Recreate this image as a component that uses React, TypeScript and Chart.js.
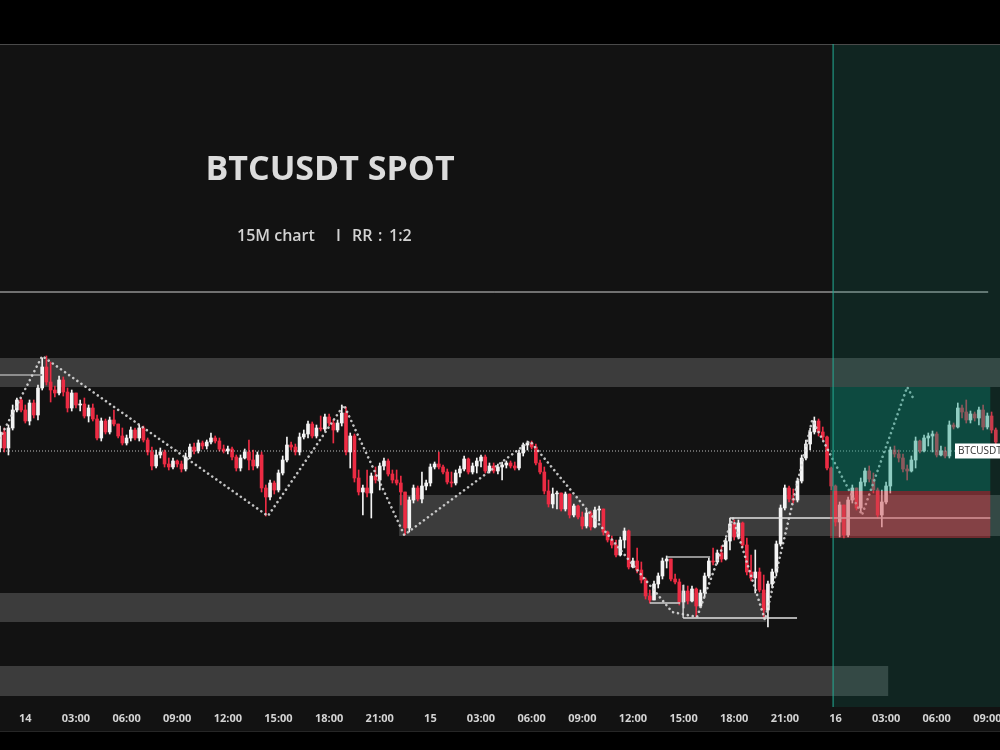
import React, { useEffect, useRef } from "react";
import { Chart, registerables } from "chart.js";

Chart.register(...registerables);

// ---- candle data (15M, index 0 = 14th 00:00) ----
const firstIndex = -6;
const firstOpen = 26104;
const closes = [
  26136, 26104, 26144, 26180, 26200, 26180,
  26158, 26194, 26170, 26224, 26266, 26236, 26220, 26214, 26240, 26216,
  26184, 26214, 26190, 26192, 26168, 26184, 26162, 26124, 26158, 26136,
  26160, 26152, 26128, 26114, 26124, 26140, 26124, 26144, 26120, 26096,
  26068, 26090, 26096, 26072, 26066, 26078, 26072, 26062, 26086, 26106,
  26098, 26114, 26108, 26116, 26124, 26118, 26102, 26098, 26102, 26086,
  26064, 26084, 26096, 26080, 26068, 26090, 26024, 26006, 26034, 26020,
  26054, 26080, 26110, 26106, 26096, 26126, 26132, 26152, 26128, 26144,
  26142, 26166, 26154, 26140, 26154, 26174, 26096, 26128, 26044, 26016,
  26024, 26014, 26048, 26040, 26068, 26078, 26052, 26040, 26034, 26016,
  25944, 26000, 26024, 26002, 26028, 26034, 26066, 26072, 26066, 26056,
  26036, 26034, 26054, 26062, 26082, 26056, 26068, 26078, 26086, 26058,
  26068, 26058, 26066, 26070, 26074, 26068, 26064, 26094, 26110, 26114,
  26106, 26074, 26056, 26018, 25992, 26012, 26014, 25982, 26012, 25970,
  25988, 25966, 25948, 25974, 25946, 25980, 25982, 25936, 25920, 25910,
  25890, 25920, 25938, 25866, 25878, 25860, 25840, 25808, 25800, 25832,
  25848, 25878, 25882, 25842, 25836, 25796, 25818, 25798, 25822, 25788,
  25814, 25848, 25878, 25876, 25894, 25882, 25918, 25952, 25926, 25954,
  25910, 25856, 25844, 25856, 25820, 25780, 25832, 25856, 25912, 25984,
  26024, 26002, 26000, 26038, 26084, 26112, 26136, 26158, 26136, 26126,
  26064, 26028, 25956, 25990, 25930, 26000, 26024, 25984, 26036, 26058,
  26042, 26020, 25970, 25996, 26028, 26100, 26092, 26084, 26062, 26058,
  26080, 26118, 26098, 26124, 26128, 26132, 26090, 26098, 26088, 26150,
  26146, 26184, 26176, 26160, 26172, 26164, 26180, 26146, 26168, 26140, 26116,
];
const highs = [
  26148, 26144, 26150, 26190, 26204, 26204,
  26190, 26200, 26200, 26230, 26284, 26288, 26276, 26228, 26248, 26246,
  26224, 26220, 26210, 26200, 26204, 26190, 26192, 26170, 26164, 26162,
  26166, 26180, 26152, 26144, 26130, 26146, 26144, 26150, 26148, 26124,
  26106, 26100, 26104, 26100, 26084, 26084, 26080, 26078, 26094, 26112,
  26114, 26120, 26118, 26120, 26134, 26128, 26124, 26110, 26108, 26106,
  26090, 26090, 26102, 26120, 26100, 26096, 26096, 26030, 26040, 26038,
  26060, 26088, 26126, 26116, 26112, 26134, 26140, 26158, 26156, 26150,
  26168, 26172, 26172, 26160, 26160, 26190, 26186, 26134, 26132, 26060,
  26030, 26060, 26054, 26066, 26074, 26084, 26082, 26060, 26060, 26048,
  26016, 26006, 26030, 26028, 26056, 26040, 26072, 26076, 26096, 26070,
  26062, 26056, 26060, 26068, 26088, 26084, 26074, 26084, 26090, 26090,
  26074, 26074, 26072, 26076, 26078, 26078, 26076, 26100, 26114, 26118,
  26118, 26112, 26080, 26066, 26040, 26024, 26018, 26000, 26016, 26012,
  25992, 25990, 25976, 25980, 25978, 25986, 25988, 25980, 25938, 25928,
  25920, 25926, 25944, 25940, 25884, 25904, 25876, 25844, 25820, 25838,
  25854, 25884, 25888, 25880, 25852, 25842, 25830, 25828, 25828, 25824,
  25820, 25854, 25884, 25904, 25900, 25908, 25924, 25964, 25960, 25960,
  25956, 25924, 25890, 25900, 25864, 25850, 25838, 25862, 25918, 25990,
  26030, 26028, 26022, 26044, 26090, 26120, 26144, 26166, 26162, 26146,
  26128, 26066, 26030, 25996, 25990, 26006, 26030, 26024, 26044, 26064,
  26068, 26054, 26024, 26020, 26036, 26106, 26108, 26100, 26092, 26070,
  26088, 26126, 26120, 26130, 26134, 26138, 26136, 26108, 26106, 26158,
  26154, 26194, 26190, 26200, 26178, 26176, 26186, 26190, 26174, 26176, 26144,
];
const lows = [
  26096, 26096, 26090, 26140, 26176, 26176,
  26154, 26150, 26164, 26160, 26220, 26230, 26196, 26206, 26210, 26208,
  26176, 26178, 26184, 26178, 26164, 26156, 26158, 26120, 26118, 26132,
  26132, 26148, 26124, 26110, 26110, 26118, 26120, 26118, 26116, 26090,
  26060, 26064, 26084, 26066, 26060, 26062, 26066, 26056, 26058, 26082,
  26092, 26094, 26102, 26102, 26112, 26114, 26098, 26094, 26092, 26080,
  26058, 26058, 26082, 26060, 26060, 26064, 26016, 25968, 26000, 26012,
  26016, 26050, 26076, 26100, 26090, 26090, 26122, 26124, 26124, 26124,
  26138, 26138, 26148, 26114, 26136, 26148, 26090, 26064, 26036, 26010,
  25970, 26006, 25964, 26034, 26020, 26060, 26048, 26034, 26030, 25990,
  25930, 25936, 25994, 25998, 25994, 26020, 26028, 26062, 26062, 26052,
  26032, 26026, 26030, 26046, 26058, 26052, 26052, 26054, 26066, 26054,
  26054, 26054, 26052, 26040, 26064, 26064, 26060, 26060, 26088, 26100,
  26102, 26070, 26052, 26012, 25986, 25984, 25982, 25978, 25978, 25964,
  25966, 25962, 25942, 25944, 25940, 25944, 25958, 25930, 25916, 25904,
  25886, 25888, 25904, 25862, 25864, 25854, 25834, 25802, 25794, 25800,
  25824, 25842, 25864, 25838, 25832, 25790, 25784, 25792, 25796, 25766,
  25786, 25806, 25844, 25870, 25872, 25876, 25880, 25900, 25920, 25922,
  25906, 25850, 25838, 25814, 25816, 25764, 25746, 25824, 25848, 25908,
  25980, 25996, 25994, 25996, 26034, 26080, 26100, 26132, 26128, 26120,
  26060, 26020, 25948, 25926, 25924, 25926, 25994, 25980, 25976, 26028,
  26036, 26014, 25964, 25946, 25992, 26014, 26086, 26076, 26056, 26040,
  26056, 26064, 26094, 26096, 26108, 26096, 26086, 26088, 26084, 26084,
  26142, 26144, 26164, 26154, 26154, 26158, 26150, 26140, 26142, 26134, 26110,
];

// ---- x axis ----
const xMin = -6;
const xMax = 231;
const xTickIdx = [0, 12, 24, 36, 48, 60, 72, 84, 96, 108, 120, 132, 144, 156, 168, 180, 192, 204, 216, 228];
const xTickLabels = ["14", "03:00", "06:00", "09:00", "12:00", "15:00", "18:00", "21:00", "15", "03:00", "06:00", "09:00", "12:00", "15:00", "18:00", "21:00", "16", "03:00", "06:00", "09:00"];
const yMin = 25586;
const yMax = 26912;

// ---- supply / demand zones ----
const zoneFrom = [-6, 88.6, -6, -6];
const zoneTo = [231, 231, 175.6, 204.5];
const zoneHigh = [26284, 26010, 25814, 25668];
const zoneLow = [26226, 25928, 25756, 25608];

// ---- horizontal levels ----
const levelPrice = [26416, 26250, 25964, 25886, 25794, 25764];
const levelFrom = [-6, -6, 167, 152, 148, 155.9];
const levelTo = [228.2, 4, 228.7, 162.3, 155.2, 182.9];
const markerX = 155.9;
const markerLow = 25764;
const markerHigh = 25830;

// ---- zigzag swings ----
const zigX = [-6, 4, 57.5, 75.5, 89.8, 119.6, 153.3, 159.2, 167.7, 175.3, 186.5, 198.3, 209, 210.4];
const zigP = [26124, 26288, 25968, 26190, 25930, 26118, 25776, 25766, 25964, 25760, 26160, 25970, 26226, 26204];

// ---- position tool (long) ----
const projectionStart = 191.5;
const posFrom = 190.7;
const posTo = 228.7;
const entryPrice = 26018;
const targetPrice = 26226;
const stopPrice = 25924;
const lastPrice = 26098;

const UP = "#f4f4f4";
const DOWN = "#ec2b43";
const levelColors = ["#cfcfcf", "#8e8e8e", "#e2e2e2", "#bdbdbd", "#d0d0d0", "#e2e2e2"];
const levelWidths = [1, 2, 1.5, 1.5, 1.5, 1.5];

export default function App() {
  const ref = useRef<HTMLCanvasElement>(null);

  useEffect(() => {
    const canvas = ref.current;
    if (!canvas) return;
    const idx = closes.map((_, k) => firstIndex + k);
    const opens = closes.map((_, k) => (k === 0 ? firstOpen : closes[k - 1]));
    const colors = closes.map((c, k) => (c >= opens[k] ? UP : DOWN));
    const bodies = idx.map((x, k) => ({ x, y: [opens[k], closes[k]] }));
    const wicks = idx.map((x, k) => ({
      x,
      y: [Math.min(lows[k], opens[k], closes[k]), Math.max(highs[k], opens[k], closes[k])],
    }));

    const levelSets: any[] = levelPrice.map((p, k) => ({
      type: "line",
      data: [
        { x: levelFrom[k], y: p },
        { x: levelTo[k], y: p },
      ],
      borderColor: levelColors[k],
      borderWidth: levelWidths[k],
      pointRadius: 0,
      fill: false,
      order: 3,
    }));
    levelSets.push({
      type: "line",
      data: [
        { x: markerX, y: markerLow },
        { x: markerX, y: markerHigh },
      ],
      borderColor: "#d0d0d0",
      borderWidth: 1.5,
      pointRadius: 0,
      fill: false,
      order: 3,
    });

    const plugin = {
      id: "tvDecor",
      beforeDraw(chart: any) {
        const { ctx, chartArea } = chart;
        ctx.save();
        ctx.fillStyle = "#000";
        ctx.fillRect(0, 0, chart.width, chart.height);
        ctx.fillStyle = "#121212";
        ctx.fillRect(0, chartArea.top, chart.width, chartArea.bottom - chartArea.top + 24);
        ctx.fillStyle = "#4a4a4a";
        ctx.fillRect(0, chartArea.top, chart.width, 1);
        ctx.fillStyle = "#262626";
        ctx.fillRect(0, chartArea.bottom + 24, chart.width, 1);
        ctx.restore();
      },
      beforeDatasetsDraw(chart: any) {
        const { ctx, scales } = chart;
        const xs = scales.x;
        const ys = scales.y;
        ctx.save();
        ctx.fillStyle = "rgba(255,255,255,0.18)";
        zoneFrom.forEach((f, k) => {
          const x0 = xs.getPixelForValue(f);
          const x1 = xs.getPixelForValue(zoneTo[k]);
          const y0 = ys.getPixelForValue(zoneHigh[k]);
          const y1 = ys.getPixelForValue(zoneLow[k]);
          ctx.fillRect(x0, y0, x1 - x0, y1 - y0);
        });
        ctx.restore();
      },
      afterDatasetsDraw(chart: any) {
        const { ctx, scales, chartArea } = chart;
        const xs = scales.x;
        const ys = scales.y;
        ctx.save();
        const px = xs.getPixelForValue(projectionStart);
        ctx.fillStyle = "rgba(8,153,129,0.14)";
        ctx.fillRect(px, chartArea.top + 1, chartArea.right - px, chartArea.bottom - chartArea.top - 1);
        const b0 = xs.getPixelForValue(posFrom);
        const b1 = xs.getPixelForValue(posTo);
        const yt = ys.getPixelForValue(targetPrice);
        const ye = ys.getPixelForValue(entryPrice);
        const yst = ys.getPixelForValue(stopPrice);
        ctx.fillStyle = "rgba(8,153,129,0.33)";
        ctx.fillRect(b0, yt, b1 - b0, ye - yt);
        ctx.fillStyle = "rgba(242,54,69,0.42)";
        ctx.fillRect(b0, ye, b1 - b0, yst - ye);
        ctx.fillStyle = "rgba(34,165,142,0.9)";
        ctx.fillRect(Math.round(px) - 0.5, chartArea.top, 1.2, chartArea.bottom - chartArea.top);
        ctx.restore();
      },
      afterDraw(chart: any) {
        const { ctx, scales, chartArea } = chart;
        ctx.save();
        ctx.fillStyle = "#dcdcdc";
        ctx.font = '700 34px "Open Sans"';
        ctx.textAlign = "center";
        ctx.textBaseline = "alphabetic";
        ctx.fillText("BTCUSDT SPOT", 330, 180);
        ctx.font = '600 16px "Open Sans"';
        ctx.fillStyle = "#d2d2d2";
        ctx.textAlign = "left";
        ctx.fillText("15M chart", 237, 241);
        ctx.fillText("I", 336, 241);
        ctx.fillText("RR", 352, 241);
        ctx.fillText(":", 378, 241);
        ctx.fillText("1:2", 389, 241);
        // last price label
        const yl = scales.y.getPixelForValue(lastPrice);
        const lx = chartArea.right - 45;
        ctx.fillStyle = "#ffffff";
        ctx.fillRect(lx, yl - 7.5, 45, 15);
        ctx.fillStyle = "#333333";
        ctx.font = '10px "Open Sans"';
        ctx.textBaseline = "middle";
        ctx.fillText("BTCUSDT", lx + 3, yl + 0.5);
        ctx.restore();
      },
    };

    const chart = new Chart(canvas, {
      type: "bar",
      data: {
        datasets: [
          {
            type: "line",
            data: [
              { x: xMin, y: lastPrice },
              { x: xMax, y: lastPrice },
            ],
            borderColor: "rgba(235,235,235,0.8)",
            borderWidth: 1,
            borderDash: [1, 2],
            pointRadius: 0,
            fill: false,
            order: 1,
          } as any,
          {
            type: "line",
            data: zigX.map((x, k) => ({ x, y: zigP[k] })),
            borderColor: "rgba(215,215,215,0.9)",
            borderWidth: 2.6,
            borderDash: [0.01, 5],
            borderCapStyle: "round",
            pointRadius: 0,
            tension: 0,
            fill: false,
            order: 2,
          } as any,
          ...levelSets,
          {
            type: "bar",
            data: wicks as any,
            backgroundColor: colors,
            barThickness: 1,
            grouped: false,
            borderWidth: 0,
            order: 5,
          } as any,
          {
            type: "bar",
            data: bodies as any,
            backgroundColor: colors,
            barThickness: 3,
            grouped: false,
            borderWidth: 0,
            minBarLength: 1,
            order: 4,
          } as any,
        ],
      },
      options: {
        animation: false,
        responsive: false,
        maintainAspectRatio: false,
        layout: { padding: { top: 44, bottom: 19, left: 0, right: 0 } },
        plugins: { legend: { display: false }, tooltip: { enabled: false } },
        scales: {
          x: {
            type: "linear",
            min: xMin,
            max: xMax,
            offset: false,
            grid: { display: false, drawTicks: false },
            border: { display: false },
            afterBuildTicks: (s: any) => {
              s.ticks = xTickIdx.map((v) => ({ value: v }));
            },
            afterFit: (s: any) => {
              s.height = 24;
              s.paddingLeft = 0;
              s.paddingRight = 0;
            },
            ticks: {
              autoSkip: false,
              maxRotation: 0,
              padding: 5,
              color: "#d4d4d4",
              font: { family: '"Open Sans"', size: 11, weight: "bold" },
              callback: (_v: any, i: number) => xTickLabels[i],
            },
          },
          y: { type: "linear", display: false, min: yMin, max: yMax },
        },
      } as any,
      plugins: [plugin],
    });
    return () => chart.destroy();
  }, []);

  return (
    <div style={{ position: "absolute", left: 0, top: 0, width: 1000, height: 750 }}>
      <canvas ref={ref} width={1000} height={750} style={{ display: "block" }} />
    </div>
  );
}
